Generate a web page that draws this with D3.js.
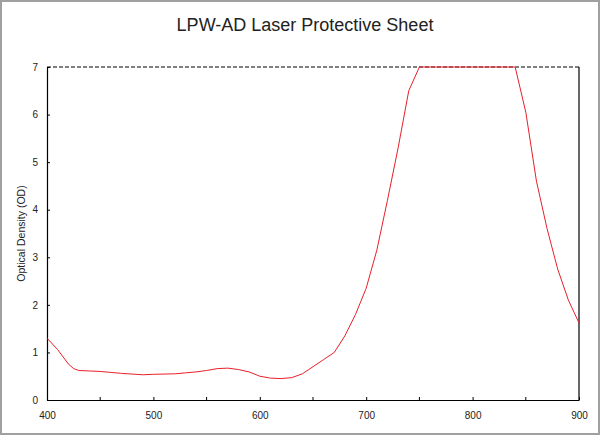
<!doctype html>
<meta charset="utf-8">
<title>LPW-AD Laser Protective Sheet</title>
<script src="https://cdn.jsdelivr.net/npm/d3@7"></script>
<style>
  body { margin: 0; background: #fff; }
  svg { display: block; font-family: "Liberation Sans", Arial, sans-serif; }
</style>
<body>
<div id="chart"></div>
<script>
  // wavelength (nm) and optical density
  const wavelengths = [400, 410, 420, 425, 430, 440, 450, 460, 470, 480, 490, 500, 510, 520, 530, 540, 550, 560, 570, 580, 590, 600, 610, 620, 630, 640, 650, 660, 670, 680, 690, 700, 710, 720, 730, 740, 750, 800, 840, 850, 860, 870, 880, 890, 900]
  const density = [1.30, 1.06, 0.76, 0.66, 0.62, 0.61, 0.60, 0.58, 0.56, 0.545, 0.53, 0.54, 0.545, 0.55, 0.57, 0.59, 0.62, 0.66, 0.67, 0.64, 0.59, 0.50, 0.46, 0.45, 0.47, 0.55, 0.70, 0.85, 1.0, 1.35, 1.8, 2.35, 3.15, 4.2, 5.3, 6.5, 7, 7, 7, 6.05, 4.6, 3.6, 2.75, 2.1, 1.62]
  const xTicks = [400, 500, 600, 700, 800, 900]
  const xMinor = [450, 550, 650, 750, 850]
  const yTicks = [0, 1, 2, 3, 4, 5, 6, 7]

  const width = 600, height = 435
  const margin = { top: 67, right: 21, bottom: 35, left: 47 }

  const svg = d3.select('#chart')
    .append('svg')
    .attr('width', width)
    .attr('height', height)

  // grey frame round the picture
  svg.append('rect')
    .attr('x', 1).attr('y', 1)
    .attr('width', width - 2).attr('height', height - 2)
    .attr('fill', '#fff')
    .attr('stroke', '#a0a0a0')
    .attr('stroke-width', 2)

  const x = d3.scaleLinear().domain([400, 900]).range([margin.left, width - margin.right])
  const y = d3.scaleLinear().domain([0, 7]).range([height - margin.bottom, margin.top])

  svg.append('text')
    .attr('x', 305)
    .attr('y', 31)
    .attr('text-anchor', 'middle')
    .attr('font-size', 18)
    .attr('fill', '#222')
    .text('LPW-AD Laser Protective Sheet')

  svg.append('text')
    .attr('transform', `translate(25, ${(y(0) + y(7)) / 2}) rotate(-90)`)
    .attr('text-anchor', 'middle')
    .attr('font-size', 10.5)
    .attr('fill', '#222')
    .text('Optical Density (OD)')

  // bottom axis, ticks point inward
  const xAxis = svg.append('g')
    .attr('transform', `translate(0, ${y(0)})`)
    .call(d3.axisBottom(x).tickValues(xTicks).tickSize(-3).tickSizeOuter(0).tickPadding(12))
  xAxis.append('g').selectAll('line')
    .data(xMinor)
    .enter()
    .append('line')
    .attr('x1', d => x(d)).attr('x2', d => x(d))
    .attr('y1', 0).attr('y2', -3)
    .attr('stroke', '#000')

  const yAxis = svg.append('g')
    .attr('transform', `translate(${x(400)}, 0)`)
    .call(d3.axisLeft(y).tickValues(yTicks).tickFormat(d3.format('d')).tickSize(-3).tickSizeOuter(0).tickPadding(9))

  ;[xAxis, yAxis].forEach(g => {
    g.select('.domain').attr('stroke', '#000').attr('stroke-width', 1.2)
    g.selectAll('text').attr('font-size', 10).attr('fill', '#222').attr('font-family', '"Liberation Sans", Arial, sans-serif')
  })

  // right border solid, top edge dashed at OD 7
  svg.append('line')
    .attr('x1', x(900)).attr('x2', x(900))
    .attr('y1', y(0)).attr('y2', y(7))
    .attr('stroke', '#000').attr('stroke-width', 1.2)
  svg.append('line')
    .attr('x1', x(400)).attr('x2', x(900))
    .attr('y1', y(7)).attr('y2', y(7))
    .attr('stroke', '#000').attr('stroke-width', 1)
    .attr('stroke-dasharray', '4,2')

  const line = d3.line()
    .x((d, i) => x(wavelengths[i]))
    .y(d => y(d))

  svg.append('path')
    .attr('d', line(density))
    .attr('fill', 'none')
    .attr('stroke', '#e8202a')
    .attr('stroke-width', 1)
</script>
</body>
